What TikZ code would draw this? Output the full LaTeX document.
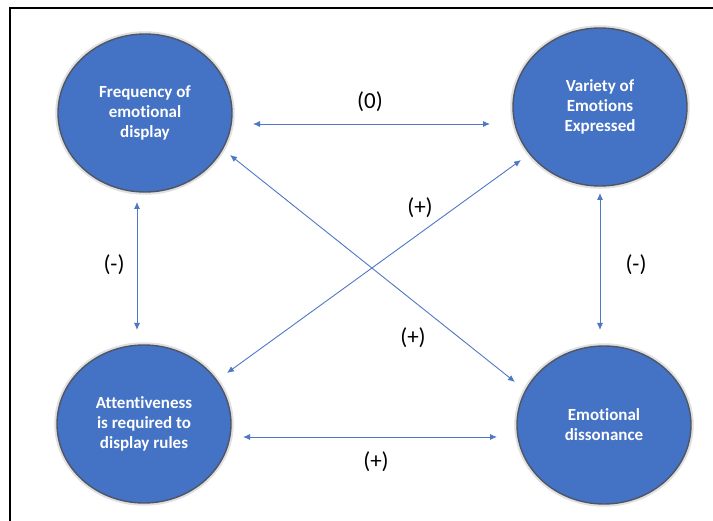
\documentclass[tikz,border=0pt]{standalone}
\usepackage{fontspec}
\setmainfont[Ligatures={NoCommon}]{Carlito}
\usetikzlibrary{shapes.geometric,arrows.meta}
\definecolor{discfill}{RGB}{68,114,196}
\definecolor{discrim}{RGB}{78,86,102}
\definecolor{linkblue}{RGB}{79,120,196}
\tikzset{
  disc/.style={ellipse, fill=discfill, draw=discrim, line width=1.4pt,
    minimum width=174pt, minimum height=158pt, inner sep=0pt,
    text=white, align=center, font=\bfseries\fontsize{17}{20}\selectfont},
  halo/.style={ellipse, draw=black!12, line width=2.5pt,
    minimum width=177pt, minimum height=161pt, inner sep=0pt},
  link/.style={draw=linkblue, line width=0.9pt,
    {Latex[length=7pt,width=6pt]}-{Latex[length=7pt,width=6pt]}},
  sign/.style={font=\fontsize{23}{26}\selectfont, text=black}
}
\begin{document}
\begin{tikzpicture}[x=1pt,y=-1pt]
\useasboundingbox (0,0) rectangle (713,521);
\fill[white] (0,0) rectangle (713,521);
% frame lines
\draw[black, line width=1.6pt] (10,521) -- (10,8) -- (713,8);

% soft rims behind the discs
\node[halo] at (145,113) {};
\node[halo] at (600,107) {};
\node[halo] at (144,424) {};
\node[halo] at (604,425) {};

% discs
\node[disc] (freq) at (145,113) {Frequency of\\emotional\\display};
\node[disc] (var)  at (600,107) {Variety of\\Emotions\\Expressed};
\node[disc] (att)  at (144,424) {Attentiveness\\is required to\\display rules};
\node[disc] (diss) at (604,425) {Emotional\\dissonance};

% connector ends
\coordinate (fE) at (253,124);
\coordinate (vW) at (490,124);
\coordinate (fS) at (137,202);
\coordinate (aN) at (137,330);
\coordinate (vS) at (600,193);
\coordinate (dN) at (600,330);
\coordinate (aE) at (243,437);
\coordinate (dW) at (497,437);
\coordinate (fSE) at (230,155);
\coordinate (dNW) at (515,382);
\coordinate (vSW) at (521,160);
\coordinate (aNE) at (227,373);

\draw[link] (fE) -- (vW);
\draw[link] (fS) -- (aN);
\draw[link] (vS) -- (dN);
\draw[link] (aE) -- (dW);
\draw[link] (fSE) -- (dNW);
\draw[link] (vSW) -- (aNE);

% signs
\node[sign] (s1) at (370,102) {(0)};
\node[sign] (s2) at (420,208) {(+)};
\node[sign] (s3) at (114,265) {(-)};
\node[sign] (s4) at (636,265) {(-)};
\node[sign] (s5) at (413,338) {(+)};
\node[sign] (s6) at (376,462) {(+)};
\end{tikzpicture}
\end{document}
